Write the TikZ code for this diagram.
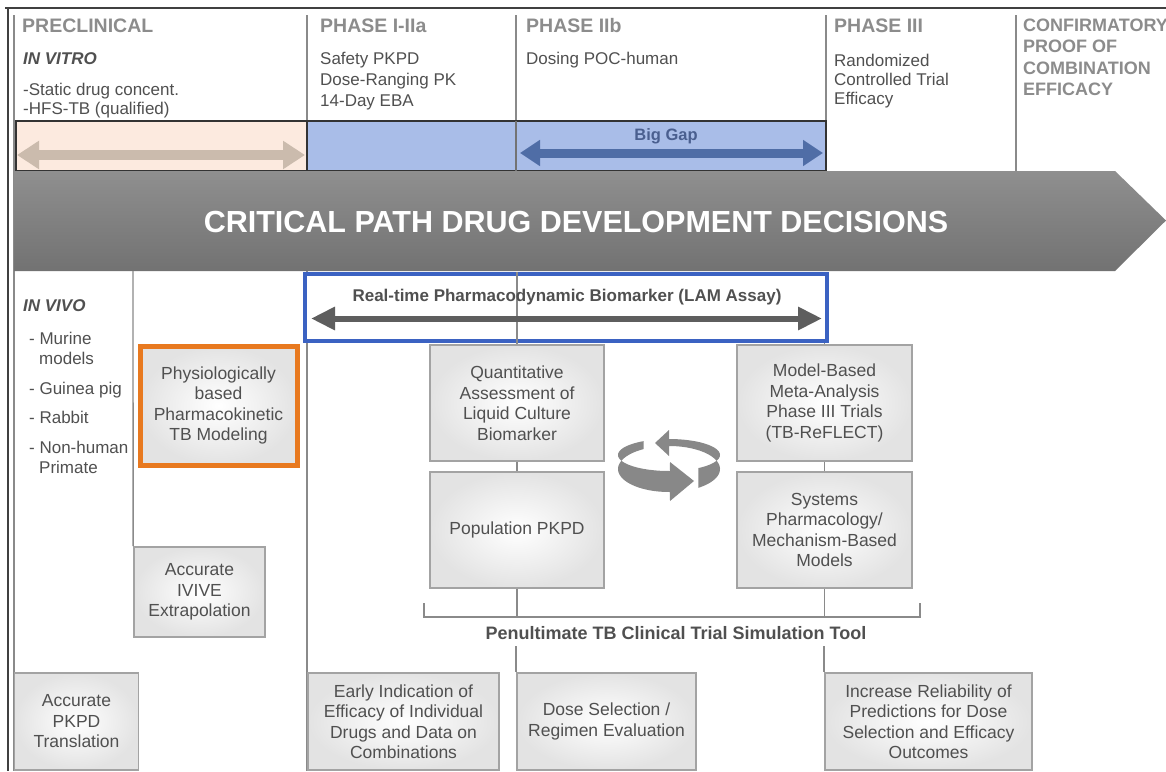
\documentclass[tikz,border=0pt]{standalone}
\usepackage{fontspec}
\setmainfont{Liberation Sans}
\usetikzlibrary{arrows.meta}
\definecolor{hdr}{HTML}{8C8C8C}
\definecolor{txt}{HTML}{505050}
\definecolor{lin}{HTML}{8A8A8A}
\definecolor{peach}{HTML}{FCEADF}
\definecolor{peachar}{HTML}{CBBBAD}
\definecolor{bluefill}{HTML}{A9BDE8}
\definecolor{bluear}{HTML}{4F6DA6}
\definecolor{gaptxt}{HTML}{4A5F8F}
\definecolor{lamblue}{HTML}{3B62C2}
\definecolor{lamar}{HTML}{5E5E5E}
\definecolor{orng}{HTML}{E8791F}
\definecolor{bandtop}{HTML}{8F8F8F}
\definecolor{bandbot}{HTML}{727272}
\definecolor{boxedge}{HTML}{A3A3A3}
\definecolor{cyc}{HTML}{888888}
\begin{document}
\begin{tikzpicture}[x=1pt,y=-1pt,
  hdrtxt/.style={anchor=base west, text=hdr, font=\bfseries\fontsize{19.5}{22}\selectfont, inner sep=0pt},
  subtxt/.style={anchor=base west, text=txt, font=\fontsize{17}{20}\selectfont, inner sep=0pt},
  headit/.style={anchor=base west, text=txt, font=\bfseries\itshape\fontsize{17}{20}\selectfont, inner sep=0pt},
  gbox/.style={draw=boxedge, line width=1.8pt, inner color=white, outer color=gray!22, text=txt, align=center, inner sep=0pt, font=\fontsize{17.5}{20.5}\selectfont},
  vline/.style={draw=lin, line width=1.4pt},
  bandbox/.style={draw=black!80, line width=1.2pt, inner sep=0pt, minimum height=50pt}
]
\useasboundingbox (0,0) rectangle (1166,771);
\fill[white] (0,0) rectangle (1166,771);

% frame
\draw[black!75, line width=2pt] (5,8) -- (1166,8);
\draw[black!75, line width=2pt] (8,8) -- (8,771);
\draw[vline] (14,15) -- (14,771);

% phase divider lines (top)
\draw[vline] (307,15) -- (307,121);
\draw[vline] (516,15) -- (516,121);
\draw[vline] (826,15) -- (826,121);
\draw[vline] (1016,15) -- (1016,171);

% headers
\node[hdrtxt] (h1) at (22,32) {PRECLINICAL};
\node[hdrtxt] (h2) at (320,32) {PHASE I-IIa};
\node[hdrtxt] (h3) at (526,32) {PHASE IIb};
\node[hdrtxt] (h4) at (834,32) {PHASE III};
\node[hdrtxt, font=\bfseries\fontsize{18}{22}\selectfont] (h5) at (1023,31) {CONFIRMATORY};
\node[hdrtxt, font=\bfseries\fontsize{18}{22}\selectfont] (h5b) at (1023,52) {PROOF OF};
\node[hdrtxt, font=\bfseries\fontsize{18}{22}\selectfont] (h5c) at (1023,74) {COMBINATION};
\node[hdrtxt, font=\bfseries\fontsize{18}{22}\selectfont] (h5d) at (1023,95) {EFFICACY};

\node[headit] (invitro) at (23,64) {IN VITRO};
\node[subtxt] (s1) at (23,95) {-Static drug concent.};
\node[subtxt] (s2) at (23,114) {-HFS-TB (qualified)};

\node[subtxt] (p1a) at (320,64) {Safety PKPD};
\node[subtxt] (p1b) at (320,85) {Dose-Ranging PK};
\node[subtxt] (p1c) at (320,106) {14-Day EBA};

\node[subtxt] (p2a) at (526,64) {Dosing POC-human};

\node[subtxt] (p3a) at (834,66) {Randomized};
\node[subtxt] (p3b) at (834,85) {Controlled Trial};
\node[subtxt] (p3c) at (834,104) {Efficacy};

% coloured band
\node[bandbox, fill=peach, minimum width=291pt] (pre) at (161.5,146) {};
\node[bandbox, fill=bluefill, minimum width=519pt] (ph) at (566.5,146) {};
\draw[draw=black!55, line width=1.2pt] (516,121) -- (516,171);
\coordinate (pa) at (17,155);
\coordinate (pb) at (305,155);
\draw[peachar, line width=10pt, {Triangle[width=27pt,length=22pt]}-{Triangle[width=27pt,length=22pt]}] (pa) -- (pb);
\coordinate (ba) at (520,153);
\coordinate (bb) at (823,153);
\draw[bluear, line width=9pt, {Triangle[width=25pt,length=20pt]}-{Triangle[width=25pt,length=20pt]}] (ba) -- (bb);
\node[font=\bfseries\fontsize{16.5}{18}\selectfont, text=gaptxt] (gap) at (666,136) {Big Gap};

% big grey arrow band
\shade[top color=bandtop, bottom color=bandbot] (14,171) -- (1115,171) -- (1166,220.5) -- (1115,271) -- (14,271) -- cycle;
\node[text=white, font=\bfseries\fontsize{30.5}{36}\selectfont] (title) at (576,222) {CRITICAL PATH DRUG DEVELOPMENT DECISIONS};

% lower region lines
\draw[vline] (307,271) -- (307,771);

% in vivo
\node[headit] (invivo) at (23,311) {IN VIVO};
\node[subtxt] (v1) at (29,344) {- Murine};
\node[subtxt] (v1b) at (39,364) {models};
\node[subtxt] (v2) at (29,394) {- Guinea pig};
\node[subtxt] (v3) at (29,423) {- Rabbit};
\node[subtxt] (v4) at (29,453) {- Non-human};
\node[subtxt] (v4b) at (39,473) {Primate};

% PBPK and IVIVE
\node[gbox, draw=orng, line width=5pt, minimum width=157pt, minimum height=119pt] (pbpk) at (218.5,405.5) {Physiologically\\based\\Pharmacokinetic\\TB Modeling};
\node[gbox, minimum width=131pt, minimum height=90pt] (ivive) at (199.5,592) {Accurate\\IVIVE\\Extrapolation};
\coordinate (ltop) at (133,271);
\draw[vline] (ltop) -- (ivive.north west);
\node[gbox, minimum width=124pt, minimum height=97pt] (pkpd) at (76.5,721.5) {Accurate\\PKPD\\Translation};

% LAM box
\node[draw=lamblue, line width=4pt, fill=white, minimum width=522pt, minimum height=67pt, inner sep=0pt] (lam) at (566,307.5) {};

% central boxes
\node[gbox, minimum width=174pt, minimum height=116pt] (quant) at (517,403) {Quantitative\\Assessment of\\Liquid Culture\\Biomarker};
\node[gbox, minimum width=174pt, minimum height=116pt] (pop) at (517,530) {Population PKPD};
\node[gbox, minimum width=175pt, minimum height=116pt] (model) at (824.5,403) {Model-Based\\Meta-Analysis\\Phase III Trials\\(TB-ReFLECT)};
\node[gbox, minimum width=175pt, minimum height=116pt] (sys) at (824.5,530) {Systems\\Pharmacology/\\Mechanism-Based\\Models};

\draw[vline] (lam.north -| quant.north) -- (lam.south -| quant.north);
\coordinate (la) at (311,318.5);
\coordinate (lb) at (822,318.5);
\draw[lamar, line width=6pt, {Triangle[width=22pt,length=24pt]}-{Triangle[width=22pt,length=24pt]}] (la) -- (lb);
\node[text=txt, font=\bfseries\fontsize{17}{20}\selectfont] (lamt) at (567,297) {Real-time Pharmacodynamic Biomarker (LAM Assay)};

\draw[vline] (lam.south -| quant.north) -- (quant.north);
\draw[vline] (lam.south -| model.north) -- (model.north);
\draw[vline] (quant.south) -- (pop.north);
\draw[vline] (model.south) -- (sys.north);

% bracket
\coordinate (brL) at (424,617);
\coordinate (brR) at (920,617);
\draw[vline] (424,603) -- (brL) -- (brR) -- (920,603);
\draw[vline] (pop.south) -- (pop.south |- brL);
\draw[vline] (sys.south) -- (sys.south |- brR);
\node[text=txt, font=\bfseries\fontsize{18}{20}\selectfont] (pen) at (676,633) {Penultimate TB Clinical Trial Simulation Tool};

% cycle arrows
\fill[cyc] plot[domain=240:89,samples=40] ({669+51*cos(\x)},{455+16*sin(\x)}) -- (670,462) -- (694,481) -- (670,501) -- plot[domain=89:240,samples=40] ({669+51*cos(\x)},{455+16*sin(\x)+14+7*sin(\x)}) -- cycle;
\fill[cyc] plot[domain=55:-90,samples=40] ({669+51*cos(\x)},{455+16*sin(\x)}) -- (669,430) -- (655,443) -- (669,456) -- plot[domain=-90:55,samples=40] ({669+51*cos(\x)},{455+16*sin(\x)+14+7*sin(\x)}) -- cycle;

% bottom boxes
\node[gbox, minimum width=191pt, minimum height=97pt] (early) at (403.5,721.5) {Early Indication of\\Efficacy of Individual\\Drugs and Data on\\Combinations};
\node[gbox, minimum width=179pt, minimum height=97pt] (dose) at (606.5,721.5) {Dose Selection /\\Regimen Evaluation};
\node[gbox, minimum width=207pt, minimum height=97pt] (incr) at (928.5,721.5) {Increase Reliability of\\Predictions for Dose\\Selection and Efficacy\\Outcomes};

\coordinate (penL) at (dose.north west |- 0,646);
\coordinate (penR) at (incr.north west |- 0,646);
\draw[vline] (penL) -- (dose.north west);
\draw[vline] (penR) -- (incr.north west);
\end{tikzpicture}
\end{document}
